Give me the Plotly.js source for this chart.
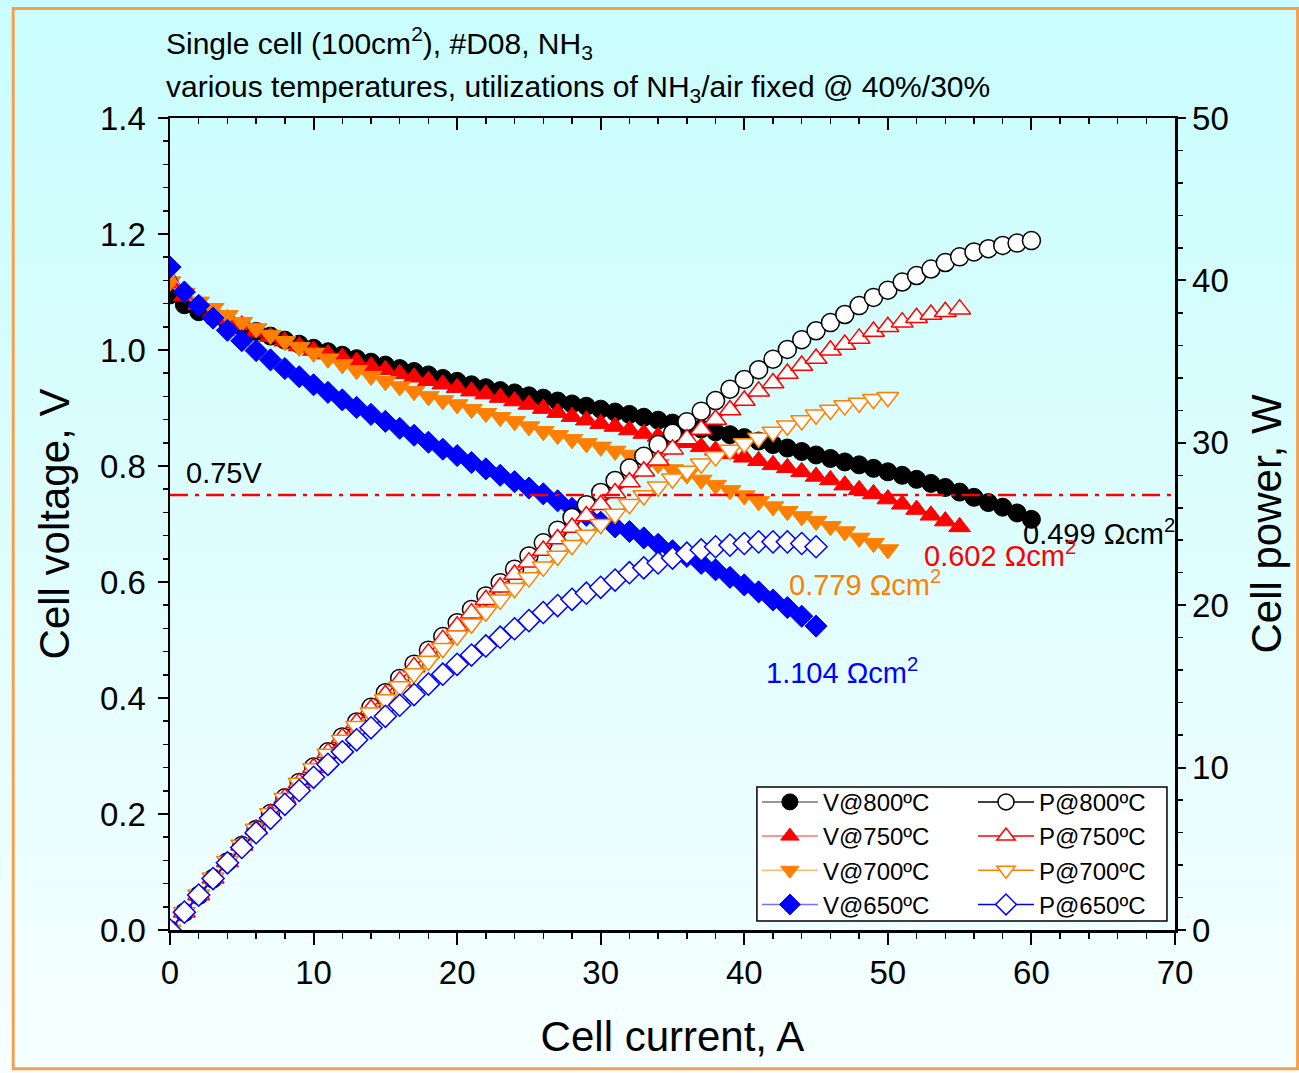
<!DOCTYPE html>
<html><head><meta charset="utf-8">
<script src="https://cdn.plot.ly/plotly-3.0.1.min.js"></script>
<style>
html,body{margin:0;padding:0;background:#ffffff;}
#chart{width:1299px;height:1073px;background:linear-gradient(to bottom,#c9fdfd 0%,#dcfdfd 45%,#f6ffff 100%);}
</style></head><body><div id="chart"></div><script>
// ---- data ----
const I800 = [0,1,2,3,4,5,6,7,8,9,10,11,12,13,14,15,16,17,18,19,20,21,22,23,24,25,26,27,28,29,30,31,32,33,34,35,36,37,38,39,40,41,42,43,44,45,46,47,48,49,50,51,52,53,54,55,56,57,58,59,60];
const V800 = [1.095,1.078,1.066,1.057,1.048,1.040,1.032,1.024,1.017,1.010,1.003,0.997,0.991,0.985,0.979,0.974,0.968,0.963,0.957,0.951,0.946,0.940,0.935,0.930,0.926,0.921,0.917,0.912,0.907,0.903,0.898,0.893,0.889,0.884,0.879,0.874,0.869,0.864,0.859,0.854,0.849,0.843,0.837,0.831,0.825,0.819,0.813,0.807,0.802,0.796,0.790,0.784,0.777,0.770,0.763,0.755,0.746,0.737,0.729,0.719,0.708];
const P800 = [0,1.08,2.13,3.17,4.19,5.20,6.19,7.17,8.14,9.09,10.03,10.97,11.89,12.81,13.71,14.61,15.49,16.37,17.23,18.07,18.92,19.74,20.57,21.39,22.22,23.03,23.84,24.62,25.40,26.19,26.94,27.68,28.45,29.17,29.89,30.59,31.3,31.95,32.6,33.3,33.9,34.5,35.15,35.75,36.35,36.9,37.4,37.9,38.45,38.95,39.4,39.9,40.3,40.7,41.1,41.45,41.75,41.95,42.15,42.3,42.45];

const I750 = [0,1,2,3,4,5,6,7,8,9,10,11,12,13,14,15,16,17,18,19,20,21,22,23,24,25,26,27,28,29,30,31,32,33,34,35,36,37,38,39,40,41,42,43,44,45,46,47,48,49,50,51,52,53,54,55];
const V750 = [1.115,1.093,1.078,1.064,1.053,1.043,1.032,1.023,1.015,1.007,0.999,0.993,0.987,0.980,0.972,0.966,0.959,0.953,0.947,0.941,0.935,0.929,0.924,0.918,0.912,0.906,0.899,0.892,0.885,0.879,0.873,0.868,0.862,0.856,0.851,0.846,0.840,0.833,0.827,0.821,0.815,0.809,0.802,0.797,0.790,0.782,0.776,0.767,0.759,0.752,0.743,0.734,0.725,0.715,0.705,0.695];
const P750 = [0,1.09,2.16,3.19,4.21,5.22,6.19,7.16,8.12,9.06,9.99,10.92,11.84,12.74,13.61,14.49,15.34,16.20,17.05,17.88,18.70,19.51,20.33,21.11,21.89,22.65,23.37,24.08,24.78,25.49,26.19,26.91,27.58,28.25,28.93,29.61,30.24,30.82,31.43,32.02,32.60,33.17,33.68,34.27,34.76,35.19,35.70,36.05,36.43,36.85,37.15,37.43,37.70,37.90,38.07,38.23];

const I700 = [0,1,2,3,4,5,6,7,8,9,10,11,12,13,14,15,16,17,18,19,20,21,22,23,24,25,26,27,28,29,30,31,32,33,34,35,36,37,38,39,40,41,42,43,44,45,46,47,48,49,50];
const V700 = [1.118,1.098,1.083,1.072,1.060,1.048,1.037,1.026,1.015,1.005,0.995,0.985,0.975,0.965,0.955,0.946,0.937,0.929,0.920,0.913,0.906,0.898,0.891,0.884,0.877,0.868,0.860,0.853,0.846,0.839,0.833,0.826,0.819,0.811,0.803,0.794,0.785,0.776,0.767,0.758,0.749,0.739,0.730,0.722,0.713,0.705,0.696,0.687,0.676,0.667,0.656];
const P700 = [0,1.10,2.17,3.22,4.24,5.24,6.22,7.18,8.12,9.05,9.95,10.84,11.70,12.55,13.37,14.19,14.99,15.79,16.56,17.35,18.12,18.86,19.60,20.33,21.05,21.70,22.36,23.03,23.69,24.33,24.99,25.61,26.21,26.76,27.30,27.79,28.26,28.71,29.15,29.56,29.96,30.30,30.66,31.05,31.37,31.73,32.02,32.29,32.45,32.68,32.80];

const I650 = [0,1,2,3,4,5,6,7,8,9,10,11,12,13,14,15,16,17,18,19,20,21,22,23,24,25,26,27,28,29,30,31,32,33,34,35,36,37,38,39,40,41,42,43,44,45];
const V650 = [1.143,1.100,1.077,1.055,1.034,1.016,0.999,0.983,0.968,0.954,0.940,0.927,0.914,0.901,0.889,0.877,0.865,0.853,0.841,0.829,0.818,0.806,0.795,0.784,0.773,0.762,0.752,0.740,0.727,0.715,0.703,0.695,0.687,0.676,0.665,0.654,0.644,0.632,0.621,0.608,0.595,0.583,0.569,0.556,0.541,0.524];
const P650 = [0,1.10,2.15,3.17,4.14,5.08,5.99,6.88,7.74,8.59,9.40,10.20,10.97,11.71,12.45,13.16,13.84,14.50,15.14,15.75,16.36,16.93,17.49,18.03,18.55,19.05,19.55,19.98,20.36,20.74,21.1,21.55,22.0,22.3,22.6,22.9,23.2,23.4,23.6,23.7,23.8,23.9,23.9,23.9,23.8,23.6];

const vNames = ['V@800ºC','V@750ºC','V@700ºC','V@650ºC'];
const pNames = ['P@800ºC','P@750ºC','P@700ºC','P@650ºC'];
const resistLabels = ['0.499 Ωcm<sup>2</sup>','0.602 Ωcm<sup>2</sup>','0.779 Ωcm<sup>2</sup>','1.104 Ωcm<sup>2</sup>'];
const refVoltage = 0.75;

// ---- styles ----
const FONT = 'Liberation Sans, Arial, sans-serif';
const cols = ['#000000','#ff0000','#ff8000','#0000ff'];
const vLineCols = ['rgba(0,0,0,0.55)','rgba(255,0,0,0.55)','rgba(255,128,0,0.55)','rgba(0,0,255,0.55)'];
const syms = ['circle','triangle-up','triangle-down','diamond'];
const sizes = [18,19,19,17];
const Is = [I800,I750,I700,I650];
const Vs = [V800,V750,V700,V650];
const Ps = [P800,P750,P700,P650];

const traces = [];
for (let k=0;k<4;k++){
  traces.push({x:Is[k], y:Vs[k], name:vNames[k], type:'scatter', mode:'lines+markers',
    xaxis:'x', yaxis:'y', legend:'legend',
    line:{color:vLineCols[k], width:1.5},
    marker:{symbol:syms[k], size:sizes[k], color:cols[k], line:{color:cols[k], width:1}}});
}
for (let k=0;k<4;k++){
  traces.push({x:Is[k], y:Ps[k], name:pNames[k], type:'scatter', mode:'lines+markers',
    xaxis:'x', yaxis:'y2', legend:'legend2',
    line:{color:cols[k], width:1.5},
    marker:{symbol:syms[k], size:sizes[k], color:'#ffffff', line:{color:cols[k], width:1.5}}});
}
traces.push({x:[null], y:[null], xaxis:'x2', yaxis:'y', showlegend:false, hoverinfo:'skip', mode:'markers'});

const axisCommon = {showline:true, linewidth:2.5, linecolor:'#000', showgrid:false, zeroline:false,
  tickfont:{family:FONT, size:33, color:'#000'}, tickwidth:2, tickcolor:'#000'};

const layout = {
  width:1299, height:1073,
  paper_bgcolor:'rgba(0,0,0,0)', plot_bgcolor:'rgba(0,0,0,0)',
  margin:{l:170, r:124, t:118, b:143},
  font:{family:FONT, color:'#000'},
  showlegend:true,
  xaxis:Object.assign({}, axisCommon, {range:[0,70], dtick:10, tick0:0, ticks:'outside', ticklen:12,
    minor:{dtick:2, ticks:'outside', ticklen:6, tickwidth:1.5, tickcolor:'#000'},
    title:{text:'Cell current, A', font:{family:FONT, size:42}, standoff:32}, automargin:false}),
  xaxis2:Object.assign({}, axisCommon, {range:[0,70], dtick:10, tick0:0, overlaying:'x', side:'top', anchor:'y',
    ticks:'inside', ticklen:12, showticklabels:false,
    minor:{dtick:2, ticks:'inside', ticklen:6, tickwidth:1.5, tickcolor:'#000'}}),
  yaxis:Object.assign({}, axisCommon, {range:[0,1.4], dtick:0.2, tick0:0, tickformat:'.1f', ticks:'outside', ticklen:10,
    ticklabelstandoff:5,
    minor:{dtick:0.04, ticks:'outside', ticklen:5, tickwidth:1.5, tickcolor:'#000'},
    title:{text:'Cell voltage, V', font:{family:FONT, size:42}, standoff:18}, automargin:false}),
  yaxis2:Object.assign({}, axisCommon, {range:[0,50], dtick:10, tick0:0, overlaying:'y', side:'right', anchor:'x',
    ticks:'outside', ticklen:8,
    minor:{dtick:2, ticks:'outside', ticklen:5, tickwidth:1.5, tickcolor:'#000'},
    title:{text:'Cell power, W', font:{family:FONT, size:42}, standoff:24}, automargin:false}),
  legend:{x:0.584, y:0.185, xanchor:'left', yanchor:'top', bgcolor:'rgba(0,0,0,0)', borderwidth:0,
    font:{family:FONT, size:24}, itemwidth:56, tracegroupgap:0, traceorder:'normal'},
  legend2:{x:0.799, y:0.185, xanchor:'left', yanchor:'top', bgcolor:'rgba(0,0,0,0)', borderwidth:0,
    font:{family:FONT, size:24}, itemwidth:56, tracegroupgap:0, traceorder:'normal'},
  shapes:[
    {type:'line', xref:'x', yref:'y', x0:0, x1:70, y0:refVoltage, y1:refVoltage, layer:'above',
     line:{color:'#ff0000', width:2.5, dash:'18px,7px,4px,7px'}},
    {type:'rect', xref:'paper', yref:'paper', x0:0.584, x1:0.992, y0:0.011, y1:0.176, layer:'above',
     fillcolor:'#ffffff', line:{color:'#000', width:1.5}},
    {type:'rect', xref:'paper', yref:'paper', x0:-0.156, x1:1.122, y0:-0.171, y1:1.135, layer:'below',
     fillcolor:'rgba(0,0,0,0)', line:{color:'#f6a04f', width:3}}
  ],
  annotations:[
    {text:'Single cell (100cm<sup>2</sup>), #D08, NH<sub>3</sub>', xref:'paper', yref:'paper', x:-0.006, y:1.092,
     xanchor:'left', yanchor:'middle', showarrow:false, font:{family:FONT, size:30}},
    {text:'various temperatures, utilizations of NH<sub>3</sub>/air fixed @ 40%/30%', xref:'paper', yref:'paper', x:-0.006, y:1.036,
     xanchor:'left', yanchor:'middle', showarrow:false, font:{family:FONT, size:30}},
    {text:'0.75V', xref:'x', yref:'y', x:1.0, y:0.788, xanchor:'left', yanchor:'middle', showarrow:false,
     font:{family:FONT, size:29, color:'#000'}},
    {text:resistLabels[0], xref:'x', yref:'y', x:59.3, y:0.687, xanchor:'left', yanchor:'middle', showarrow:false,
     font:{family:FONT, size:29, color:cols[0]}},
    {text:resistLabels[1], xref:'x', yref:'y', x:52.4, y:0.648, xanchor:'left', yanchor:'middle', showarrow:false,
     font:{family:FONT, size:29, color:cols[1]}},
    {text:resistLabels[2], xref:'x', yref:'y', x:43.0, y:0.598, xanchor:'left', yanchor:'middle', showarrow:false,
     font:{family:FONT, size:29, color:cols[2]}},
    {text:resistLabels[3], xref:'x', yref:'y', x:41.4, y:0.446, xanchor:'left', yanchor:'middle', showarrow:false,
     font:{family:FONT, size:29, color:cols[3]}}
  ]
};

Plotly.newPlot('chart', traces, layout, {displayModeBar:false, staticPlot:true});
</script></body></html>
